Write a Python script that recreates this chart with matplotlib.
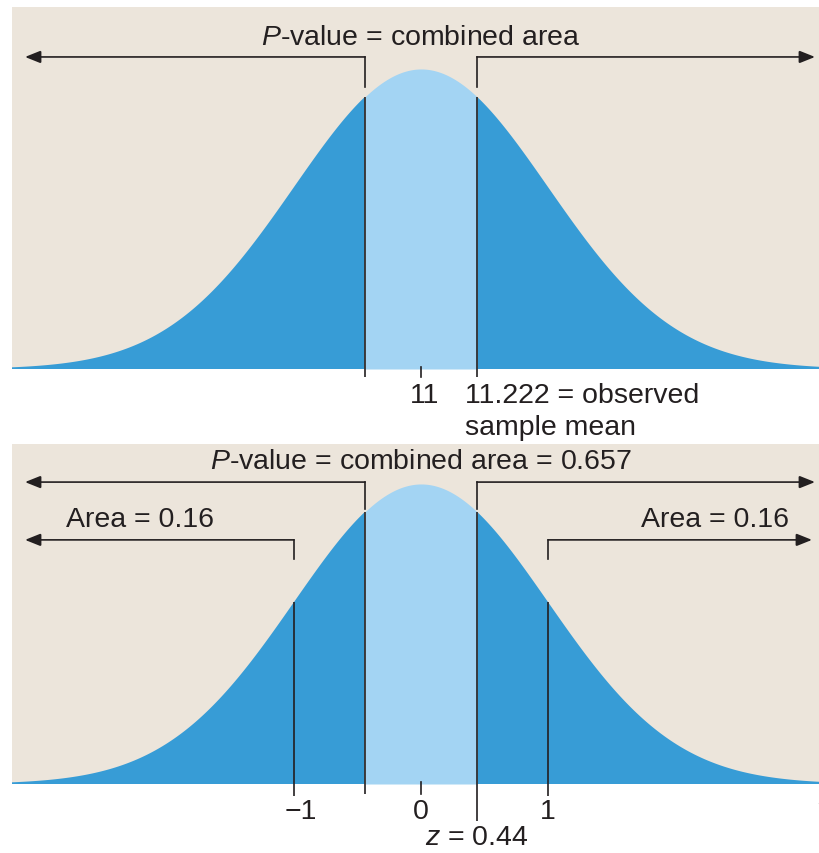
import numpy as np
import matplotlib
matplotlib.use("Agg")
import matplotlib.pyplot as plt

plt.rcParams['font.family'] = ['Liberation Sans', 'DejaVu Sans']
plt.rcParams['mathtext.fontset'] = 'custom'
plt.rcParams['mathtext.rm'] = 'Liberation Sans'
plt.rcParams['mathtext.it'] = 'Liberation Sans:italic'

# data
mu0 = 11
xbar = 11.222
z_obs = 0.44
tail_area = 0.16
p_value = 0.657
z_ticks = [-1, 0, 1]

BG = '#ece5db'
DARK = '#379cd6'
LIGHT = '#a3d4f3'
INK = '#231f20'
FS = 20.5

W, H = 819, 854
fig = plt.figure(figsize=(W / 100, H / 100), dpi=100)

# pixel geometry of the two panels
left_px, right_px, centre_px, sd_px = 12, 819, 421, 127
xlim = ((left_px - centre_px) / sd_px, (right_px - centre_px) / sd_px)
ppx = 0.3989 / 300  # pdf units per pixel (peak is 300 px tall)


def panel(top_px, bot_px):
    ax = fig.add_axes([left_px / W, 1 - bot_px / H, (right_px - left_px) / W,
                       (bot_px - top_px) / H])
    ax.set_facecolor(BG)
    ax.set_xlim(*xlim)
    ax.set_ylim(0, (bot_px - top_px) * ppx)
    ax.axis('off')
    ax.add_patch(plt.Rectangle((0, 0), 1, 1, transform=ax.transAxes,
                               color=BG, zorder=0))
    z = np.linspace(xlim[0], xlim[1], 800)
    pdf = np.exp(-z ** 2 / 2) / np.sqrt(2 * np.pi)
    ax.fill_between(z, 0, pdf, where=np.abs(z) >= z_obs - 1e-9,
                    color=DARK, lw=0, zorder=1)
    ax.fill_between(z, 0, pdf, where=np.abs(z) <= z_obs + 1e-9,
                    color=LIGHT, lw=0, zorder=1)
    return ax


def pdf_at(z):
    return np.exp(-z ** 2 / 2) / np.sqrt(2 * np.pi)


def vline(ax, z, bottom_px, top=None):
    top = pdf_at(z) if top is None else top
    ax.plot([z, z], [-bottom_px * ppx, top], color=INK, lw=1.2,
            clip_on=False, zorder=3, solid_capstyle='butt')


def bracket(ax, z_from, tip, y_arrow, y_end):
    tr = ax.get_xaxis_transform()
    ax.plot([z_from, z_from], [y_end, y_arrow], color=INK, lw=1.2,
            transform=tr, zorder=3)
    ax.annotate('', xy=(tip, y_arrow), xytext=(z_from, y_arrow),
                xycoords=tr, textcoords=tr,
                arrowprops=dict(arrowstyle='-|>,head_length=0.8,head_width=0.32',
                                mutation_scale=12, lw=1.2, color=INK,
                                shrinkA=0, shrinkB=0, joinstyle='miter'))


tip_l = (25 - centre_px) / sd_px
tip_r = (815 - centre_px) / sd_px

# top panel: sample mean scale
ax1 = panel(8, 370)
sd_xbar = (xbar - mu0) / z_obs
z_top = (xbar - mu0) / sd_xbar
vline(ax1, -z_top, 8)
vline(ax1, z_top, 8)
ax1.plot([0, 0], [0.002, -8 * ppx], color=INK, lw=1.2, clip_on=False, zorder=3)
bracket(ax1, -z_top, tip_l, 0.862, 0.779)
bracket(ax1, z_top, tip_r, 0.862, 0.779)
ax1.text(0, 0.917, '$P$-value = combined area', transform=ax1.get_xaxis_transform(),
         ha='center', va='center', fontsize=FS, color=INK)
ax1.text(0.03, -26 * ppx, f'{mu0}', ha='center', va='center', fontsize=FS,
         color=INK, clip_on=False)
ax1.text(z_top - 0.09, -26 * ppx, f'{xbar} = observed', ha='left', va='center',
         fontsize=FS, color=INK, clip_on=False)
ax1.text(z_top - 0.09, -58 * ppx, 'sample mean', ha='left', va='center',
         fontsize=FS, color=INK, clip_on=False)

# bottom panel: z scale
ax2 = panel(445, 785)
for t in z_ticks:
    if t == 0:
        ax2.plot([0, 0], [0.002, -10 * ppx], color=INK, lw=1.2,
                 clip_on=False, zorder=3)
    else:
        vline(ax2, t, 12)
vline(ax2, -z_obs, 10)
vline(ax2, z_obs, 37)
bracket(ax2, -z_obs, tip_l, 0.888, 0.809)
bracket(ax2, z_obs, tip_r, 0.888, 0.809)
bracket(ax2, -1, tip_l, 0.718, 0.662)
bracket(ax2, 1, (812 - centre_px) / sd_px, 0.718, 0.662)
tr2 = ax2.get_xaxis_transform()
ax2.text(0, 0.95, f'$P$-value = combined area = {p_value}', transform=tr2,
         ha='center', va='center', fontsize=FS, color=INK)
ax2.text((140 - centre_px) / sd_px, 0.779, f'Area = {tail_area}', transform=tr2,
         ha='center', va='center', fontsize=FS, color=INK)
ax2.text((715 - centre_px) / sd_px, 0.779, f'Area = {tail_area}', transform=tr2,
         ha='center', va='center', fontsize=FS, color=INK)
for t in z_ticks:
    lab = '\u22121' if t < 0 else str(t)
    ax2.text(t + (0.05 if t < 0 else 0), -27 * ppx, lab, ha='center', va='center',
             fontsize=FS, color=INK, clip_on=False)
ax2.text(z_obs, -53 * ppx, f'$z$ = {z_obs}', ha='center', va='center',
         fontsize=FS, color=INK, clip_on=False)
ax2.text((826 - centre_px) / sd_px, -12 * ppx, '$z$', ha='center', va='center',
         fontsize=FS, color=INK, clip_on=False)

fig.savefig('out.png', dpi=100, facecolor='white')
